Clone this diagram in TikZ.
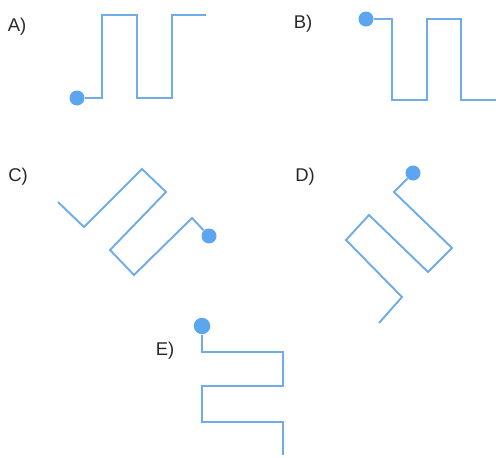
\documentclass[tikz,border=0pt]{standalone}
\usepackage{fontspec}
\setmainfont{Liberation Sans}
\usepackage{tikz}
\definecolor{wireblue}{RGB}{112, 172, 230}
\definecolor{dotblue}{RGB}{92, 166, 240}
\definecolor{labelgray}{RGB}{40, 40, 40}

\begin{document}
\begin{tikzpicture}[
    x=0.02cm, y=-0.02cm,
    wire/.style={draw=wireblue, line width=1.1pt, line join=miter},
    pin/.style={circle, fill=dotblue, inner sep=0pt, minimum size=0.3cm},
    tag/.style={font=\fontsize{10.5}{12}\selectfont, text=labelgray},
]
    \useasboundingbox (0,0) rectangle (496,457);

    \node[tag] (labA) at (17,27) {A)};
    \node[tag] (labB) at (303,24) {B)};
    \node[tag] (labC) at (18,177) {C)};
    \node[tag] (labD) at (305,177) {D)};
    \node[tag] (labE) at (165,351) {E)};

    \node[pin] (pinA) at (77,98) {};
    \node[pin] (pinB) at (366,19) {};
    \node[pin] (pinC) at (209,236) {};
    \node[pin] (pinD) at (413,173) {};
    \node[pin, minimum size=0.33cm] (pinE) at (202,326) {};

    \draw[wire] (pinA) -- (102,98) -- (102,15) -- (137,15) -- (137,98)
        -- (172,98) -- (172,15) -- (206,15);
    \draw[wire] (pinB) -- (392,19) -- (392,100) -- (427,100) -- (427,19)
        -- (461,19) -- (461,100) -- (496,100);
    \draw[wire] (pinC) -- (192,218) -- (134,275) -- (110,250) -- (166,192)
        -- (142,169) -- (84,227) -- (58,202);
    \draw[wire] (pinD) -- (394,192) -- (452,248) -- (428,272) -- (369,215)
        -- (346,240) -- (402,297) -- (379,323);
    \draw[wire] (pinE) -- (202,352) -- (283,352) -- (283,386) -- (202,386)
        -- (202,422) -- (283,422) -- (283,455);
\end{tikzpicture}
\end{document}
